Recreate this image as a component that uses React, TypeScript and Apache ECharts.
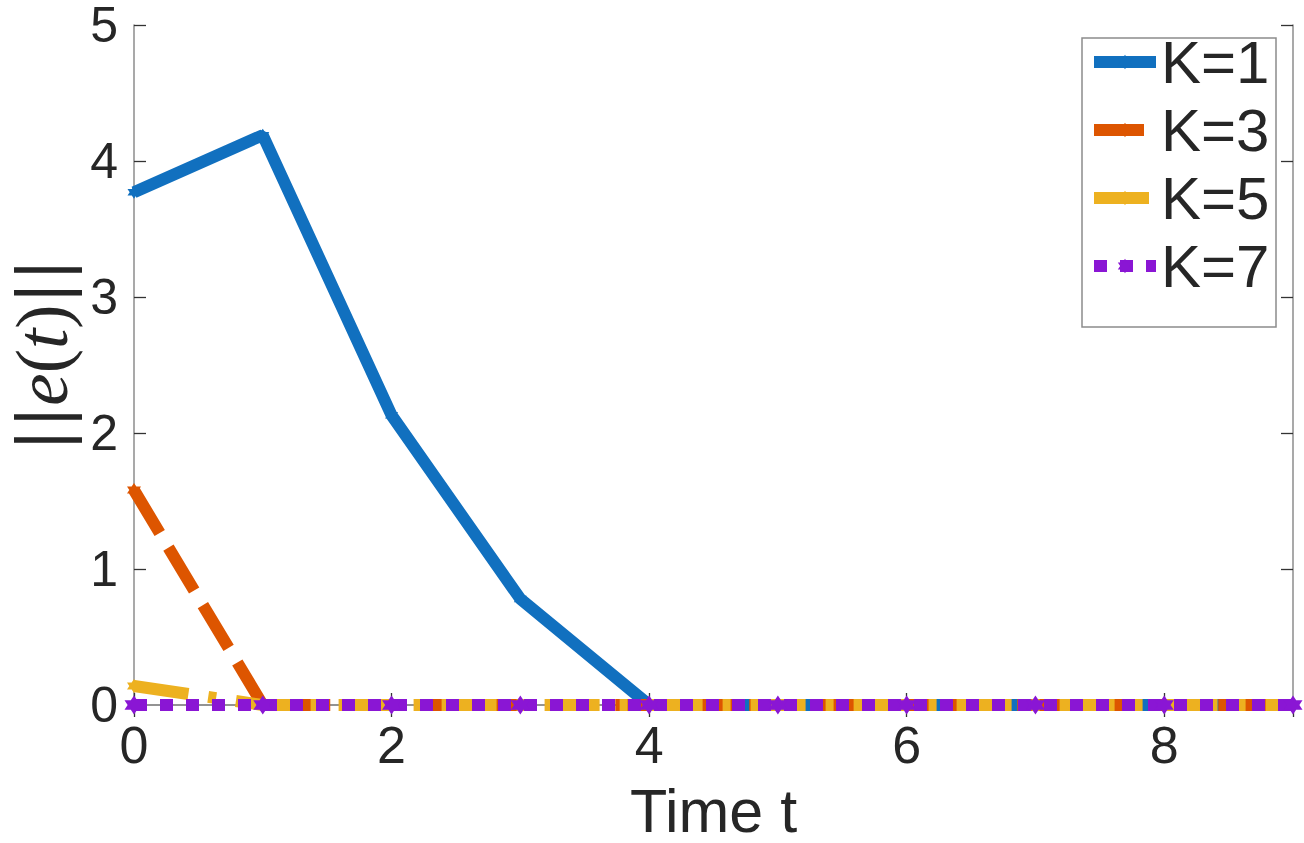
import React, { useEffect, useRef } from "react";
import * as echarts from "echarts";

const timeSteps = [0, 1, 2, 3, 4, 5, 6, 7, 8, 9];
const errK1 = [3.77, 4.19, 2.13, 0.78, 0, 0, 0, 0, 0, 0];
const errK3 = [1.58, 0, 0, 0, 0, 0, 0, 0, 0, 0];
const errK5 = [0.14, 0, 0, 0, 0, 0, 0, 0, 0, 0];
const errK7 = [0, 0, 0, 0, 0, 0, 0, 0, 0, 0];
const seriesNames = ["K=1", "K=3", "K=5", "K=7"];
const xTickLabels = ["0", "2", "4", "6", "8"];
const yTickLabels = ["0", "1", "2", "3", "4", "5"];

const HEX =
  "path://M0,-10L2.9,-5L8.66,-5L5.8,0L8.66,5L2.9,5L0,10L-2.9,5L-8.66,5L-5.8,0L-8.66,-5L-2.9,-5Z";

const FONT = "'Liberation Sans', Arial, Helvetica, sans-serif";
const SERIF = "'Liberation Serif', 'DejaVu Serif', serif";
const TXT = "#262626";
const AXIS = "#8c8c8c";

export default function App() {
  const ref = useRef<HTMLDivElement>(null);
  useEffect(() => {
    document.body.style.margin = "0";
    if (!ref.current) return;
    const chart = echarts.init(ref.current, undefined, { renderer: "svg" });
    const mk = (vals: number[]) => vals.map((v, i) => [timeSteps[i], v]);
    const colors = ["#1170bf", "#dd5500", "#edb120", "#8a16d4"];
    const dashes: any[] = ["solid", [50, 17], [55, 20, 8, 20], [13, 13]];
    const sizes = [13, 14, 14, 19];
    const data = [errK1, errK3, errK5, errK7];
    const series = seriesNames.map((name, i) => ({
      name,
      type: "line",
      data: mk(data[i]),
      symbol: HEX,
      symbolSize: sizes[i],
      showAllSymbol: true,
      itemStyle: { color: colors[i] },
      lineStyle: { color: colors[i], width: 12, type: dashes[i], cap: "butt" },
      z: 2 + i,
    }));
    const xAxisBase = {
      type: "value",
      min: 0,
      max: 9,
      interval: 2,
      splitLine: { show: false },
      axisLine: { show: true, lineStyle: { color: AXIS, width: 1.5 } },
      axisTick: { show: true, inside: true, length: 12, lineStyle: { color: "#333", width: 1.3 } },
    };
    const yAxisBase = {
      type: "value",
      min: 0,
      max: 5,
      interval: 1,
      splitLine: { show: false },
      axisLine: { show: true, onZero: false, lineStyle: { color: AXIS, width: 1.5 } },
      axisTick: { show: true, inside: true, length: 12, lineStyle: { color: "#333", width: 1.3 } },
    };
    chart.setOption({
      animation: false,
      backgroundColor: "#ffffff",
      grid: {
        left: 134,
        right: 11,
        top: 25,
        bottom: 138,
        containLabel: false,
        outerBoundsMode: "none",
      },
      graphic: [
        {
          type: "rect",
          shape: { x: 1082, y: 38, width: 194, height: 289 },
          style: { fill: "#ffffff", stroke: AXIS, lineWidth: 1.5 },
          z: 50,
        },
      ],
      legend: {
        data: seriesNames,
        orient: "vertical",
        left: 1088,
        top: 32,
        itemWidth: 62,
        itemHeight: 18,
        itemGap: 8,
        padding: 0,
        borderWidth: 0,
        z: 60,
        lineStyle: { width: 12, cap: "butt" },
        textStyle: { fontFamily: FONT, fontSize: 60, color: TXT, padding: 0 },
      },
      xAxis: [
        {
          ...xAxisBase,
          position: "bottom",
          name: "Time t",
          nameLocation: "middle",
          nameGap: 81,
          nameTextStyle: { fontFamily: FONT, fontSize: 61, lineHeight: 50, color: TXT },
          axisLabel: {
            fontFamily: FONT,
            fontSize: 52,
            color: TXT,
            margin: 14,
            showMaxLabel: false,
            formatter: (v: number) => (xTickLabels.includes(String(v)) ? String(v) : ""),
          },
        },
        { ...xAxisBase, position: "top", axisLabel: { show: false } },
      ],
      yAxis: [
        {
          ...yAxisBase,
          position: "left",
          name: "{b|||}{i|e}{n|(}{i|t}{n|)}{b|||}",
          nameLocation: "middle",
          nameGap: 54,
          nameTextStyle: {
            padding: [0, 0, 0, 20],
            lineHeight: 72,
            rich: {
              b: { fontFamily: "'DejaVu Sans', sans-serif", fontSize: 68, lineHeight: 72, color: TXT },
              n: { fontFamily: SERIF, fontSize: 73, lineHeight: 72, color: TXT },
              i: { fontFamily: SERIF, fontStyle: "italic", fontSize: 73, lineHeight: 72, color: TXT },
            },
          },
          axisLabel: {
            fontFamily: FONT,
            fontSize: 50,
            lineHeight: 42,
            color: TXT,
            margin: 16,
            formatter: (v: number) => (yTickLabels.includes(String(v)) ? String(v) : ""),
          },
        },
        { ...yAxisBase, position: "right", axisLabel: { show: false } },
      ],
      series,
    });
    return () => chart.dispose();
  }, []);
  return <div ref={ref} style={{ width: 1304, height: 843 }} />;
}
